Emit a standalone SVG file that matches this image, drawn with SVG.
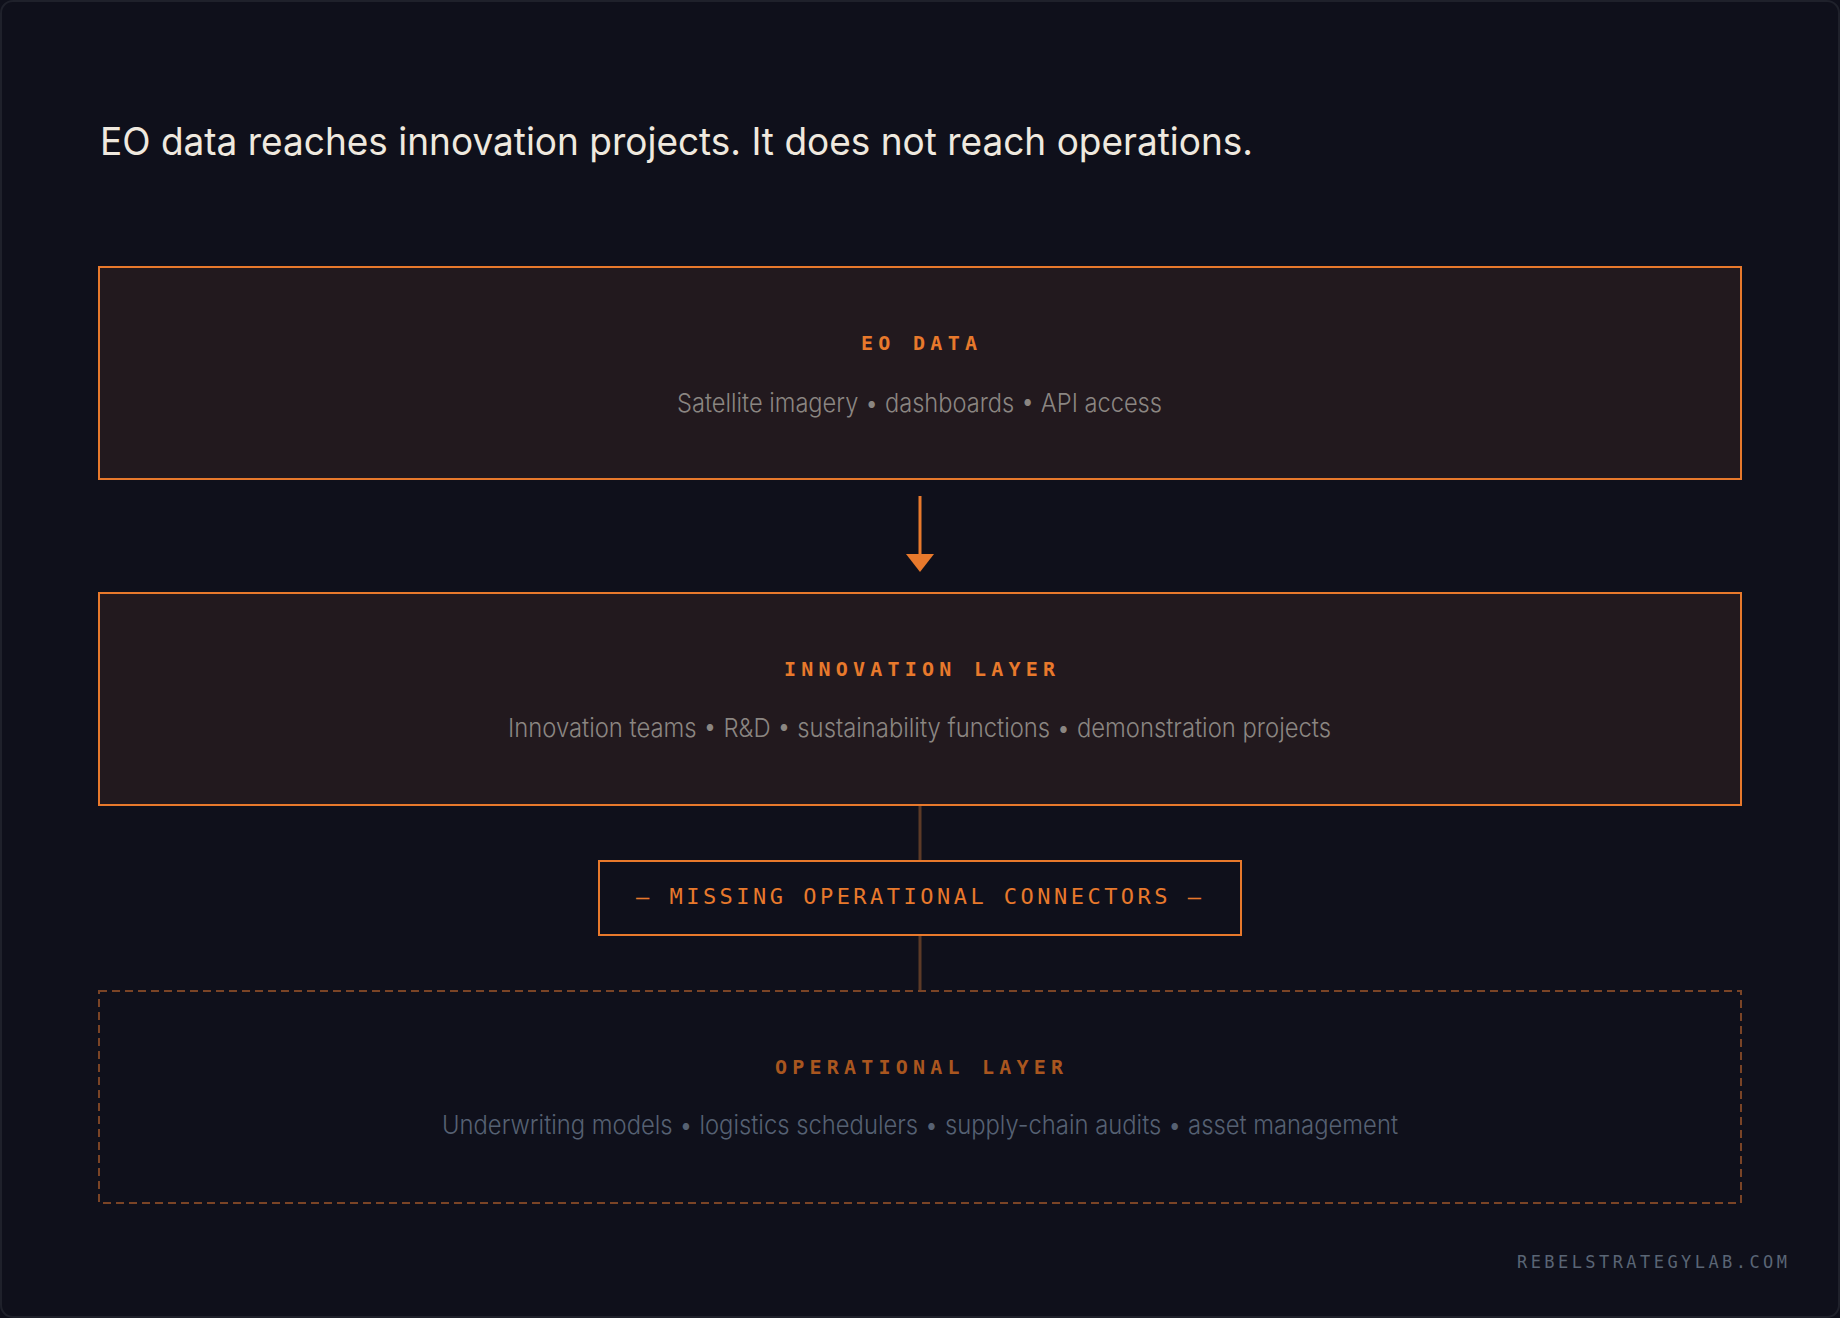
<svg xmlns="http://www.w3.org/2000/svg" width="1840" height="1318" viewBox="0 0 1840 1318">
  <defs>
    <style>
      .title { font-family: Inter, "Liberation Sans", sans-serif; font-size: 38px; font-weight: 400; fill: #efe9df; }
      .label { font-family: "DejaVu Sans Mono", "Liberation Mono", monospace; font-size: 20px; font-weight: 700; fill: #e8792c; }
      .label-op { fill: #a9561f; }
      .sub { font-family: Inter, "Liberation Sans", sans-serif; font-size: 26px; font-weight: 300; fill: #8b8682; }
      .sub-op { fill: #566173; }
      .gap { font-family: "DejaVu Sans Mono", "Liberation Mono", monospace; font-size: 22px; font-weight: 400; fill: #e8792c; }
      .footer { font-family: "DejaVu Sans Mono", "Liberation Mono", monospace; font-size: 17px; font-weight: 400; fill: #5a6575; }
      .box { fill: #22191e; stroke: #e8792c; stroke-width: 2; }
      .gapbox { fill: #0f101b; stroke: #e8792c; stroke-width: 2; }
      .dashbox { fill: none; stroke: #7a4426; stroke-width: 2; stroke-dasharray: 8 5; }
      .flow { stroke: #e8792c; stroke-width: 3; fill: none; }
      .missing { stroke: #5c3a27; stroke-width: 3; fill: none; }
    </style>
    <marker id="arrowhead" markerUnits="userSpaceOnUse" markerWidth="18" markerHeight="28" refX="0" refY="14" orient="auto" viewBox="0 0 18 28">
      <polygon points="0,0 18,14 0,28" fill="#e8792c"/>
    </marker>
  </defs>

  <rect x="0" y="0" width="1840" height="1318" fill="#0f101b"/>
  <rect x="1" y="1" width="1838" height="1316" rx="12" ry="12" fill="none" stroke="#1f212b" stroke-width="2"/>

  <text class="title" x="100" y="155" textLength="1153" lengthAdjust="spacingAndGlyphs">EO data reaches innovation projects. It does not reach operations.</text>

  <g id="connectors">
    <line class="flow" x1="920" y1="496" x2="920" y2="554" marker-end="url(#arrowhead)"/>
    <line class="missing" x1="920" y1="806" x2="920" y2="860"/>
    <line class="missing" x1="920" y1="936" x2="920" y2="990"/>
  </g>

  <g id="eo-data">
    <rect class="box" x="99" y="267" width="1642" height="212"/>
    <text class="label" x="919" y="350" text-anchor="middle" textLength="116" lengthAdjust="spacing">EO DATA</text>
    <text class="sub" x="919.5" y="412" text-anchor="middle" textLength="485" lengthAdjust="spacingAndGlyphs">Satellite imagery • dashboards • API access</text>
  </g>

  <g id="innovation-layer">
    <rect class="box" x="99" y="593" width="1642" height="212"/>
    <text class="label" x="919.5" y="676" text-anchor="middle" textLength="271" lengthAdjust="spacing">INNOVATION LAYER</text>
    <text class="sub" x="919.5" y="737" text-anchor="middle" textLength="823" lengthAdjust="spacingAndGlyphs">Innovation teams • R&amp;D • sustainability functions • demonstration projects</text>
  </g>

  <g id="missing-connectors">
    <rect class="gapbox" x="599" y="861" width="642" height="74"/>
    <text class="gap" x="918.5" y="904" text-anchor="middle" textLength="565" lengthAdjust="spacing">— MISSING OPERATIONAL CONNECTORS —</text>
  </g>

  <g id="operational-layer">
    <rect class="dashbox" x="99" y="991" width="1642" height="212"/>
    <text class="label label-op" x="919" y="1074" text-anchor="middle" textLength="288" lengthAdjust="spacing">OPERATIONAL LAYER</text>
    <text class="sub sub-op" x="920" y="1134" text-anchor="middle" textLength="956" lengthAdjust="spacingAndGlyphs">Underwriting models • logistics schedulers • supply-chain audits • asset management</text>
  </g>

  <g id="footer">
    <text class="footer" x="1787" y="1268" text-anchor="end" textLength="270" lengthAdjust="spacing">REBELSTRATEGYLAB.COM</text>
  </g>
</svg>
